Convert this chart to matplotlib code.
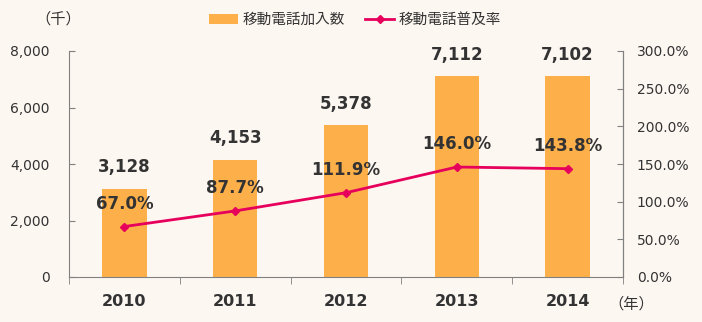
import matplotlib.pyplot as plt
import numpy as np
from matplotlib.ticker import FuncFormatter, FixedLocator

plt.rcParams['font.family'] = ['DejaVu Sans', 'Noto Sans CJK JP']

years = ['2010', '2011', '2012', '2013', '2014']
subscribers = [3128, 4153, 5378, 7112, 7102]       # 千
penetration = [67.0, 87.7, 111.9, 146.0, 143.8]    # %

bg = '#FDF7F2'
bar_color = '#FDB04A'
line_color = '#E6005C'
axis_color = '#808080'
text_color = '#333333'

fig = plt.figure(figsize=(7.02, 3.22), dpi=100, facecolor=bg)
ax = fig.add_axes([69 / 702, 1 - 277 / 322, 554 / 702, 226 / 322])
ax.set_facecolor(bg)

x = np.arange(len(years))
bars = ax.bar(x, subscribers, width=0.4, color=bar_color, label='移動電話加入数', zorder=2)
ax.set_xlim(-0.5, len(years) - 0.5)
ax.set_ylim(0, 8000)
ax.set_yticks(range(0, 8001, 2000))
ax.yaxis.set_major_formatter(FuncFormatter(lambda v, p: f'{int(v):,}'))
ax.set_xticks(x)
ax.set_xticklabels(years, fontsize=11.5, fontweight='bold', color=text_color)
ax.xaxis.set_minor_locator(FixedLocator(np.arange(-0.5, len(years), 1.0)))
ax.tick_params(axis='x', which='major', length=0, pad=12)
ax.tick_params(axis='x', which='minor', length=5, color=axis_color, direction='out')
ax.tick_params(axis='y', length=4, direction='in', color=axis_color, labelsize=10,
               labelcolor=text_color, pad=14)

# value labels above each bar
for b, v in zip(bars, subscribers):
    ax.annotate(f'{v:,}', (b.get_x() + b.get_width() / 2, v), xytext=(0, 9),
                textcoords='offset points', ha='center', va='bottom',
                fontsize=12, fontweight='bold', color=text_color)

ax2 = ax.twinx()
ax2.plot(x, penetration, color=line_color, lw=2, marker='D', ms=4.5, label='移動電話普及率', zorder=3)
ax2.set_ylim(0, 300)
ax2.set_yticks(range(0, 301, 50))
ax2.yaxis.set_major_formatter(FuncFormatter(lambda v, p: f'{v:.1f}%'))
ax2.tick_params(axis='y', length=4, direction='in', color=axis_color, labelsize=10,
                labelcolor=text_color, pad=10)

for xi, v in zip(x, penetration):
    ax2.annotate(f'{v:.1f}%', (xi, v), xytext=(0, 10), textcoords='offset points',
                 ha='center', va='bottom', fontsize=12, fontweight='bold', color=text_color)

for a in (ax, ax2):
    a.spines['top'].set_visible(False)
    for s in ('left', 'right', 'bottom'):
        a.spines[s].set_color(axis_color)
ax2.spines['left'].set_visible(False)
ax2.spines['bottom'].set_visible(False)

h1, l1 = ax.get_legend_handles_labels()
h2, l2 = ax2.get_legend_handles_labels()
fig.legend(h1 + h2, l1 + l2, loc='center', bbox_to_anchor=(355 / 702, 1 - 20 / 322),
           ncol=2, frameon=False, handlelength=2.0, handletextpad=0.3,
           columnspacing=1.4, prop={'family': ['Noto Sans CJK JP'], 'size': 10.5},
           labelcolor=text_color)

fig.text(58 / 702, 1 - 19 / 322, '（千）', ha='center', va='center', fontsize=11,
         color=text_color, family=['Noto Sans CJK JP'])
fig.text(631 / 702, 1 - 304 / 322, '（年）', ha='center', va='center', fontsize=11,
         color=text_color, family=['Noto Sans CJK JP'])

fig.savefig('out.png', dpi=100, facecolor=bg)
